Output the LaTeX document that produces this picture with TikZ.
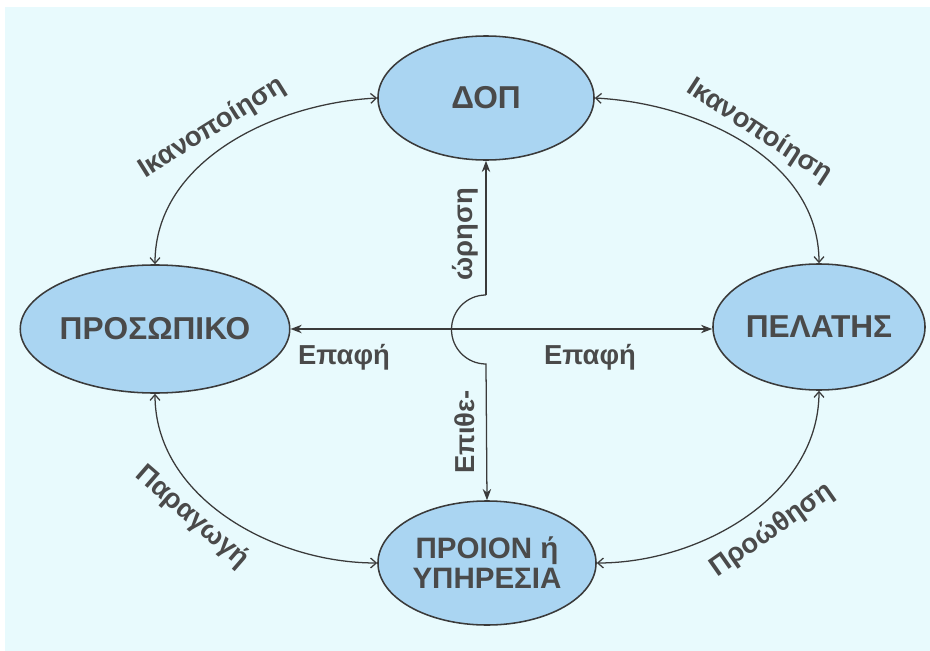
\documentclass[tikz,border=0pt]{standalone}
\usepackage{fontspec}
\setmainfont{Liberation Sans}
\usetikzlibrary{shapes.geometric,arrows.meta}
\definecolor{bgcyan}{RGB}{232,250,253}
\definecolor{ovalblue}{RGB}{170,213,242}
\definecolor{inkgray}{RGB}{74,74,74}
\definecolor{linegray}{RGB}{58,58,58}
\begin{document}
\begin{tikzpicture}[x=0.025cm,y=0.025cm,
    oval/.style={ellipse,draw=linegray,line width=1.1pt,fill=ovalblue,
        inner sep=0pt,text=inkgray,align=center,
        font=\fontsize{22.5}{26}\selectfont\bfseries},
    lbl/.style={text=inkgray,inner sep=1pt,
        font=\fontsize{19.5}{22}\selectfont\bfseries},
    link/.style={draw=linegray,line width=0.9pt},
    straight/.style={link,-{Stealth[length=8pt,width=6pt]}},
    curved/.style={link,{Straight Barb[length=4pt,width=7pt]}-{Straight Barb[length=4pt,width=7pt]}}]
    \useasboundingbox (0,0) rectangle (930,-651);
    \fill[bgcyan] (5,-7) rectangle (930,-651);

    % the four parties
    \node[oval,minimum width=5.4cm,minimum height=3.1cm] (dop) at (486,-98) {ΔΟΠ};
    \node[oval,minimum width=5.5cm,minimum height=3.2cm] (prosop) at (155,-329) {ΠΡΟΣΩΠΙΚΟ};
    \node[oval,minimum width=5.3cm,minimum height=3.15cm] (pelatis) at (819,-327) {ΠΕΛΑΤΗΣ};
    \node[oval,minimum width=5.45cm,minimum height=3.1cm,
        font=\fontsize{21}{21.5}\selectfont\bfseries] (proion) at (487,-563)
        {ΠΡΟΙΟΝ ή\\ΥΠΗΡΕΣΙΑ};

    % contact line, with the jump of the vertical line
    \draw[link,{Stealth[length=8pt,width=6pt]}-{Stealth[length=8pt,width=6pt]}]
        (prosop.east |- 0,-329) -- (pelatis.west |- 0,-329);
    \coordinate (hopT) at (486,-295);
    \draw[straight] (hopT) -- (dop.south);
    \draw[straight] (hopT) arc[start angle=90,end angle=270,radius=34.5] -- (proion.north);

    % curved links
    \draw[curved] (prosop.north) to[out=90,in=183,looseness=0.95] (dop.west);
    \draw[curved] (dop.east) to[out=-3,in=90,looseness=0.95] (pelatis.north);
    \draw[curved] (prosop.south) to[out=-90,in=180,looseness=0.95] (proion.west);
    \draw[curved] (proion.east) to[out=0,in=-90,looseness=0.95] (pelatis.south);

    % labels
    \node[lbl,rotate=32] (ikanL) at (212,-128) {Ικανοποίηση};
    \node[lbl,rotate=-33] (ikanR) at (759,-131) {Ικανοποίηση};
    \node[lbl,rotate=-41] (parag) at (192,-517) {Παραγωγή};
    \node[lbl,rotate=35] (proot) at (772,-530) {Προώθηση};
    \node[lbl] (epafL) at (344,-357) {Επαφή};
    \node[lbl] (epafR) at (590,-357) {Επαφή};
    \node[lbl,rotate=90] (epitheA) at (465,-234) {ώρηση};
    \node[lbl,rotate=90] (epitheB) at (465,-432) {Επιθε-};
\end{tikzpicture}
\end{document}
